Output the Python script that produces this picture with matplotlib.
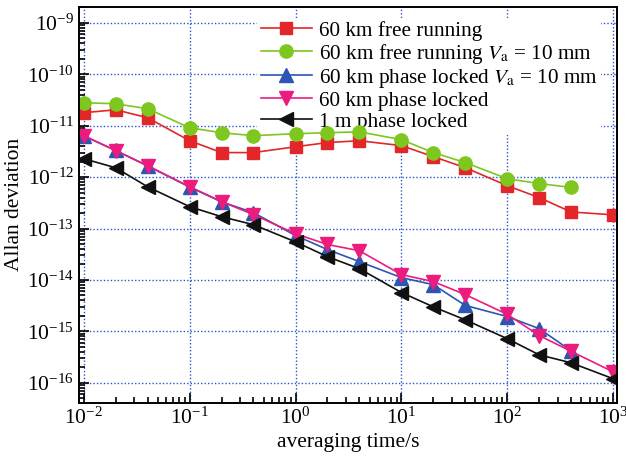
import matplotlib
matplotlib.use('Agg')
import matplotlib.pyplot as plt
from matplotlib.ticker import LogLocator, NullFormatter
import numpy as np

plt.rcParams['font.family'] = ['Liberation Serif', 'DejaVu Serif']
plt.rcParams['mathtext.fontset'] = 'stix'

# averaging times (s)
tau = [0.01, 0.02, 0.04, 0.1, 0.2, 0.4, 1, 2, 4, 10, 20, 40, 100, 200, 400, 1000]
tau_va = tau[:-1]  # Va = 10 mm runs stop at 400 s

free_60km = [1.79e-11, 2.04e-11, 1.43e-11, 5.1e-12, 3.0e-12, 3.0e-12, 3.9e-12, 4.7e-12,
             5.1e-12, 4.1e-12, 2.5e-12, 1.53e-12, 6.8e-13, 4.0e-13, 2.1e-13, 1.85e-13]
free_60km_va = [2.8e-11, 2.67e-11, 2.14e-11, 9.1e-12, 7.3e-12, 6.4e-12, 7.0e-12, 7.3e-12,
                7.6e-12, 5.35e-12, 3.0e-12, 1.92e-12, 9.3e-13, 7.5e-13, 6.3e-13]
locked_60km_va = [6.3e-12, 3.3e-12, 1.65e-12, 6.4e-13, 3.3e-13, 2.04e-13, 7.3e-14, 3.9e-14,
                  2.28e-14, 1.11e-14, 8.1e-15, 3.2e-15, 1.94e-15, 1.13e-15, 4.2e-16]
locked_60km = [6.4e-12, 3.27e-12, 1.67e-12, 6.5e-13, 3.34e-13, 1.87e-13, 7.9e-14, 4.9e-14,
               3.7e-14, 1.27e-14, 9.3e-15, 5.2e-15, 2.14e-15, 8.3e-16, 4.1e-16, 1.63e-16]
locked_1m = [2.28e-12, 1.52e-12, 6.5e-13, 2.66e-13, 1.7e-13, 1.19e-13, 5.5e-14, 2.84e-14,
             1.66e-14, 5.7e-15, 3.0e-15, 1.68e-15, 7.2e-16, 3.5e-16, 2.45e-16, 1.2e-16]

fig = plt.figure(figsize=(6.26, 4.62), dpi=100)
ax = fig.add_axes([0.126, 0.128, 0.86, 0.857])

lw = 1.2
ax.plot(tau, free_60km, color='#e3262a', marker='s', ms=8.5, lw=lw, label='60 km free running')
ax.plot(tau_va, free_60km_va, color='#7dc71e', marker='o', ms=9.5, lw=lw,
        label=r'60 km free running $V_{\mathrm{a}}$ = 10 mm')
ax.plot(tau_va, locked_60km_va, color='#2b56b3', marker='^', ms=9.5, lw=lw,
        label=r'60 km phase locked $V_{\mathrm{a}}$ = 10 mm')
ax.plot(tau, locked_60km, color='#ec1c7f', marker='v', ms=9.5, lw=lw, label='60 km phase locked')
ax.plot(tau, locked_1m, color='#111111', marker='<', ms=9.5, lw=lw, label='1 m phase locked')

ax.set_xscale('log')
ax.set_yscale('log')
ax.set_xlim(10**-2.047, 10**3.038)
ax.set_ylim(10**-16.39, 10**-8.69)
ax.set_xticks([1e-2, 1e-1, 1e0, 1e1, 1e2, 1e3])
ax.set_yticks([1e-16, 1e-15, 1e-14, 1e-13, 1e-12, 1e-11, 1e-10, 1e-9])
for a in (ax.xaxis, ax.yaxis):
    a.set_minor_locator(LogLocator(base=10, subs=np.arange(2, 10), numticks=100))
    a.set_minor_formatter(NullFormatter())

ax.grid(True, which='major', color='#2b56c8', linestyle=(0, (1, 1.5)), lw=1.0)
ax.tick_params(which='both', direction='in', top=False, right=False, labelsize=15.5)
ax.tick_params(which='major', length=7, width=1.2)
ax.tick_params(which='minor', length=4, width=1.2)
for s in ax.spines.values():
    s.set_linewidth(1.4)

ax.set_xlabel('averaging time/s', fontsize=15.5, labelpad=3)
ax.set_ylabel('Allan deviation', fontsize=15.5, labelpad=2)

leg = ax.legend(loc='upper right', bbox_to_anchor=(0.99, 1.0), fontsize=15.3, frameon=True,
                framealpha=1, edgecolor='none', handlelength=2.4, borderpad=0.15,
                labelspacing=0.05, handletextpad=0.35)
leg.get_frame().set_boxstyle('square', pad=0)
leg.set_zorder(1.8)  # above grid, below the data lines

fig.savefig('out.png', dpi=100)
